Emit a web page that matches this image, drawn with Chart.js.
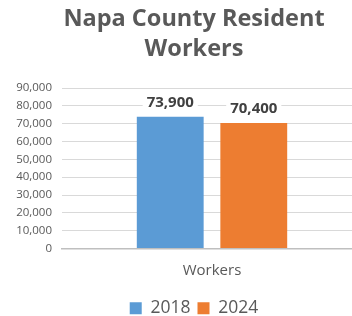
<!DOCTYPE html>
<html>
<head>
<meta charset="utf-8">
<script src="https://cdn.jsdelivr.net/npm/chart.js@4"></script>
<style>
  html, body { margin: 0; padding: 0; background: #fff; overflow: hidden; }
  #wrap { width: 388px; height: 316px; }
</style>
</head>
<body>
<div id="wrap"><canvas id="miGrafica" width="388" height="316"></canvas></div>
<script>
// datos de la grafica
const categorias = ['Workers'];
const anios = ['2018', '2024'];
const trabajadores2018 = [73900];
const trabajadores2024 = [70400];
const colores = ['#5B9BD5', '#ED7D31'];
const ticksY = [0, 10000, 20000, 30000, 40000, 50000, 60000, 70000, 80000, 90000];

const fuente = '"Open Sans", sans-serif';
const gris = '#595959';

// etiquetas de valor encima de cada barra
const etiquetasValor = {
    id: 'etiquetasValor',
    afterDatasetsDraw(chart) {
        const ctx = chart.ctx;
        ctx.save();
        ctx.font = 'bold 15px ' + fuente;
        ctx.textAlign = 'center';
        ctx.textBaseline = 'middle';
        chart.data.datasets.forEach((ds, i) => {
            const meta = chart.getDatasetMeta(i);
            meta.data.forEach((bar, j) => {
                const texto = ds.data[j].toLocaleString('en-US');
                const y = bar.y - 14;
                const w = ctx.measureText(texto).width;
                ctx.fillStyle = '#fff';
                ctx.fillRect(bar.x - w / 2 - 4, y - 9, w + 8, 18);
                ctx.fillStyle = '#404040';
                ctx.fillText(texto, bar.x, y);
            });
        });
        ctx.restore();
    }
};

const ctx = document.getElementById('miGrafica').getContext('2d');

window.myChart = new Chart(ctx, {
    type: 'bar',
    data: {
        labels: categorias,
        datasets: [{
            label: anios[0],
            data: trabajadores2018,
            backgroundColor: colores[0],
        }, {
            label: anios[1],
            data: trabajadores2024,
            backgroundColor: colores[1],
        }],
    },
    options: {
        responsive: false,
        animation: false,
        layout: { padding: { left: 0, right: 0, top: 0, bottom: -11 } },
        datasets: {
            bar: { categoryPercentage: 0.557, barPercentage: 0.8 }
        },
        scales: {
            x: {
                grid: { display: false, drawTicks: false },
                border: { color: '#bfbfbf', width: 1.5 },
                ticks: { color: gris, font: { family: fuente, size: 15 }, padding: 13 },
            },
            y: {
                min: 0,
                max: 90000,
                afterFit: (s) => { s.width = 62; },
                afterBuildTicks: (s) => { s.ticks = ticksY.map(v => ({ value: v })); },
                border: { display: false },
                grid: { color: '#d9d9d9', drawTicks: false },
                ticks: {
                    color: gris,
                    padding: 10,
                    autoSkip: false,
                    font: { family: fuente, size: 11.5 },
                    callback: (v) => v.toLocaleString('en-US'),
                },
            },
            // margen derecho del area de trazado
            derecha: {
                position: 'right',
                grid: { display: false },
                border: { display: false },
                ticks: { display: false },
                afterFit: (s) => { s.width = 26; },
            },
        },
        plugins: {
            title: {
                display: true,
                text: ['Napa County Resident', 'Workers'],
                color: gris,
                font: { family: fuente, size: 23.5, weight: 'bold', lineHeight: 1.277 },
                padding: { top: 4, bottom: 24 },
            },
            legend: {
                position: 'bottom',
                labels: {
                    color: gris,
                    boxWidth: 12,
                    boxHeight: 12,
                    padding: 7,
                    font: { family: fuente, size: 17.5 },
                },
            },
            tooltip: { enabled: false },
        },
    },
    plugins: [etiquetasValor],
});
</script>
</body>
</html>
